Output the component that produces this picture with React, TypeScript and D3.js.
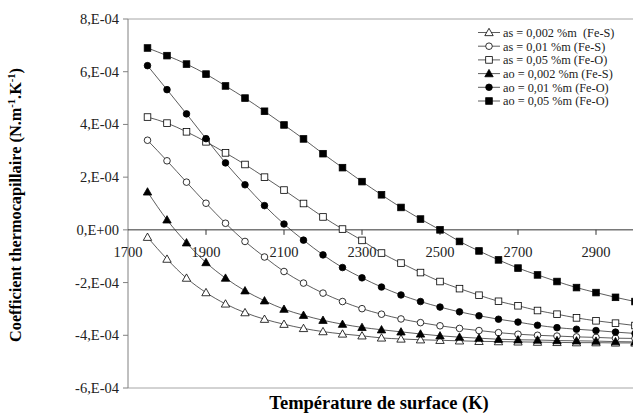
import React from "react";
import * as d3 from "d3";

const temps = [1750, 1800, 1850, 1900, 1950, 2000, 2050, 2100, 2150, 2200, 2250, 2300, 2350, 2400, 2450, 2500, 2550, 2600, 2650, 2700, 2750, 2800, 2850, 2900, 2950, 3000];

// values in units of 1E-4
const as002 = [-0.28, -1.11, -1.83, -2.38, -2.81, -3.14, -3.39, -3.58, -3.74, -3.86, -3.95, -4.02, -4.10, -4.14, -4.17, -4.19, -4.21, -4.23, -4.24, -4.25, -4.26, -4.27, -4.28, -4.28, -4.29, -4.29];
const as01 = [3.40, 2.62, 1.81, 1.01, 0.25, -0.44, -1.03, -1.58, -2.02, -2.40, -2.72, -2.99, -3.20, -3.38, -3.52, -3.64, -3.74, -3.82, -3.90, -3.96, -4.00, -4.03, -4.06, -4.08, -4.11, -4.12];
const as05 = [4.28, 4.05, 3.72, 3.34, 2.92, 2.48, 2.00, 1.51, 1.00, 0.49, 0.03, -0.40, -0.88, -1.26, -1.62, -1.96, -2.23, -2.48, -2.71, -2.88, -3.06, -3.20, -3.34, -3.45, -3.54, -3.63];
const ao002 = [1.44, 0.38, -0.49, -1.24, -1.83, -2.31, -2.69, -3.01, -3.24, -3.43, -3.58, -3.70, -3.79, -3.87, -3.95, -4.02, -4.07, -4.11, -4.15, -4.17, -4.18, -4.20, -4.21, -4.22, -4.24, -4.25];
const ao01 = [6.23, 5.32, 4.40, 3.46, 2.54, 1.71, 0.92, 0.22, -0.39, -0.95, -1.43, -1.82, -2.17, -2.47, -2.72, -2.93, -3.11, -3.26, -3.39, -3.50, -3.62, -3.71, -3.77, -3.82, -3.88, -3.93];
const ao05 = [6.90, 6.61, 6.29, 5.91, 5.46, 5.00, 4.50, 3.98, 3.45, 2.89, 2.36, 1.83, 1.33, 0.85, 0.41, 0.0, -0.44, -0.80, -1.14, -1.45, -1.71, -1.96, -2.19, -2.38, -2.56, -2.72];

const seriesNames = [
  "as = 0,002 %m\u00a0 (Fe-S)",
  "as = 0,01 %m (Fe-S)",
  "as = 0,05 %m (Fe-O)",
  "ao = 0,002 %m (Fe-S)",
  "ao = 0,01 %m (Fe-O)",
  "ao = 0,05 %m (Fe-O)",
];
const seriesValues = [as002, as01, as05, ao002, ao01, ao05];
const seriesMarkers = ["triangle-open", "circle-open", "square-open", "triangle", "circle", "square"];

const xTicks = [1700, 1900, 2100, 2300, 2500, 2700, 2900];
const yTicks = [8, 6, 4, 2, 0, -2, -4, -6];
const yTickLabels = ["8,E-04", "6,E-04", "4,E-04", "2,E-04", "0,E+00", "-2,E-04", "-4,E-04", "-6,E-04"];

const W = 633;
const H = 419;
const left = 128;
const right = 635;
const top = 19;
const bottom = 388;

const x = d3.scaleLinear().domain([1700, 3000]).range([left, right]);
const y = d3.scaleLinear().domain([-6, 8]).range([bottom, top]);

const FONT = "Times New Roman, Liberation Serif, serif";

function Marker({ kind, cx, cy }: { kind: string; cx: number; cy: number }) {
  const open = kind.endsWith("open");
  const fill = open ? "#fff" : "#000";
  const stroke = "#000";
  const sw = 0.8;
  if (kind.startsWith("triangle")) {
    const s = 4.2;
    const pts = `${cx},${cy - s} ${cx + s},${cy + s * 0.75} ${cx - s},${cy + s * 0.75}`;
    return <polygon points={pts} fill={fill} stroke={stroke} strokeWidth={sw} />;
  }
  if (kind.startsWith("circle")) {
    return <circle cx={cx} cy={cy} r={3.3} fill={fill} stroke={stroke} strokeWidth={sw} />;
  }
  return <rect x={cx - 3.3} y={cy - 3.3} width={6.6} height={6.6} fill={fill} stroke={stroke} strokeWidth={sw} />;
}

export default function App() {
  const line = d3
    .line<number>()
    .x((_, i) => x(temps[i]))
    .y((d) => y(d))
    .curve(d3.curveMonotoneX);

  const ts = { fontFamily: FONT };

  return (
    <svg
      width={W}
      height={H}
      style={{ position: "absolute", left: 0, top: 0, display: "block", background: "#fff", fontFamily: FONT }}
    >
      <rect x={0} y={0} width={W} height={H} fill="#fff" />
      {/* plot border top & bottom */}
      <line x1={left} x2={W} y1={top} y2={top} stroke="#a6a6a6" strokeWidth={1} />
      <line x1={left} x2={W} y1={bottom} y2={bottom} stroke="#a6a6a6" strokeWidth={1} />

      {/* y axis */}
      <line x1={left} x2={left} y1={top} y2={bottom} stroke="#808080" strokeWidth={1} />
      {yTicks.map((t, i) => (
        <g key={t}>
          <line x1={left - 5} x2={left} y1={y(t)} y2={y(t)} stroke="#808080" strokeWidth={1} />
          <text x={left - 9} y={y(t) + 5} textAnchor="end" fontSize={14.5} fill="#222" style={ts}>
            {yTickLabels[i]}
          </text>
        </g>
      ))}

      {/* x axis at zero */}
      <line x1={left} x2={W} y1={y(0)} y2={y(0)} stroke="#333" strokeWidth={1} />
      {xTicks.map((t) => (
        <g key={t}>
          {t !== 1700 && <line x1={x(t)} x2={x(t)} y1={y(0)} y2={y(0) + 5} stroke="#333" strokeWidth={1} />}
          <text x={x(t)} y={y(0) + 27} textAnchor="middle" fontSize={14.5} fill="#222" style={ts}>
            {t}
          </text>
        </g>
      ))}

      {/* series */}
      {seriesValues.map((vals, si) => (
        <g key={si}>
          <path d={line(vals) || ""} fill="none" stroke="#333" strokeWidth={0.8} />
          {vals.map((v, i) => (
            <Marker key={i} kind={seriesMarkers[si]} cx={x(temps[i])} cy={y(v)} />
          ))}
        </g>
      ))}

      {/* legend */}
      {seriesNames.map((name, i) => {
        const cy = 32.5 + i * 13.7;
        return (
          <g key={name}>
            <line x1={478} x2={500} y1={cy} y2={cy} stroke="#333" strokeWidth={0.8} />
            <Marker kind={seriesMarkers[i]} cx={489} cy={cy} />
            <text x={503} y={cy + 4.3} fontSize={12.3} fill="#222" style={ts}>
              {name}
            </text>
          </g>
        );
      })}

      {/* axis titles */}
      <text x={379} y={409} textAnchor="middle" fontSize={18.5} fontWeight="bold" fill="#000" style={ts}>
        Température de surface (K)
      </text>
      <text
        transform={`translate(21,205) rotate(-90)`}
        textAnchor="middle"
        fontSize={16.3}
        fontWeight="bold"
        fill="#000"
        style={ts}
      >
        Coefficient thermocapillaire (N.m
        <tspan dy={-6} fontSize={10.5}>-1</tspan>
        <tspan dy={6}>.K</tspan>
        <tspan dy={-6} fontSize={10.5}>-1</tspan>
        <tspan dy={6}>)</tspan>
      </text>
    </svg>
  );
}
